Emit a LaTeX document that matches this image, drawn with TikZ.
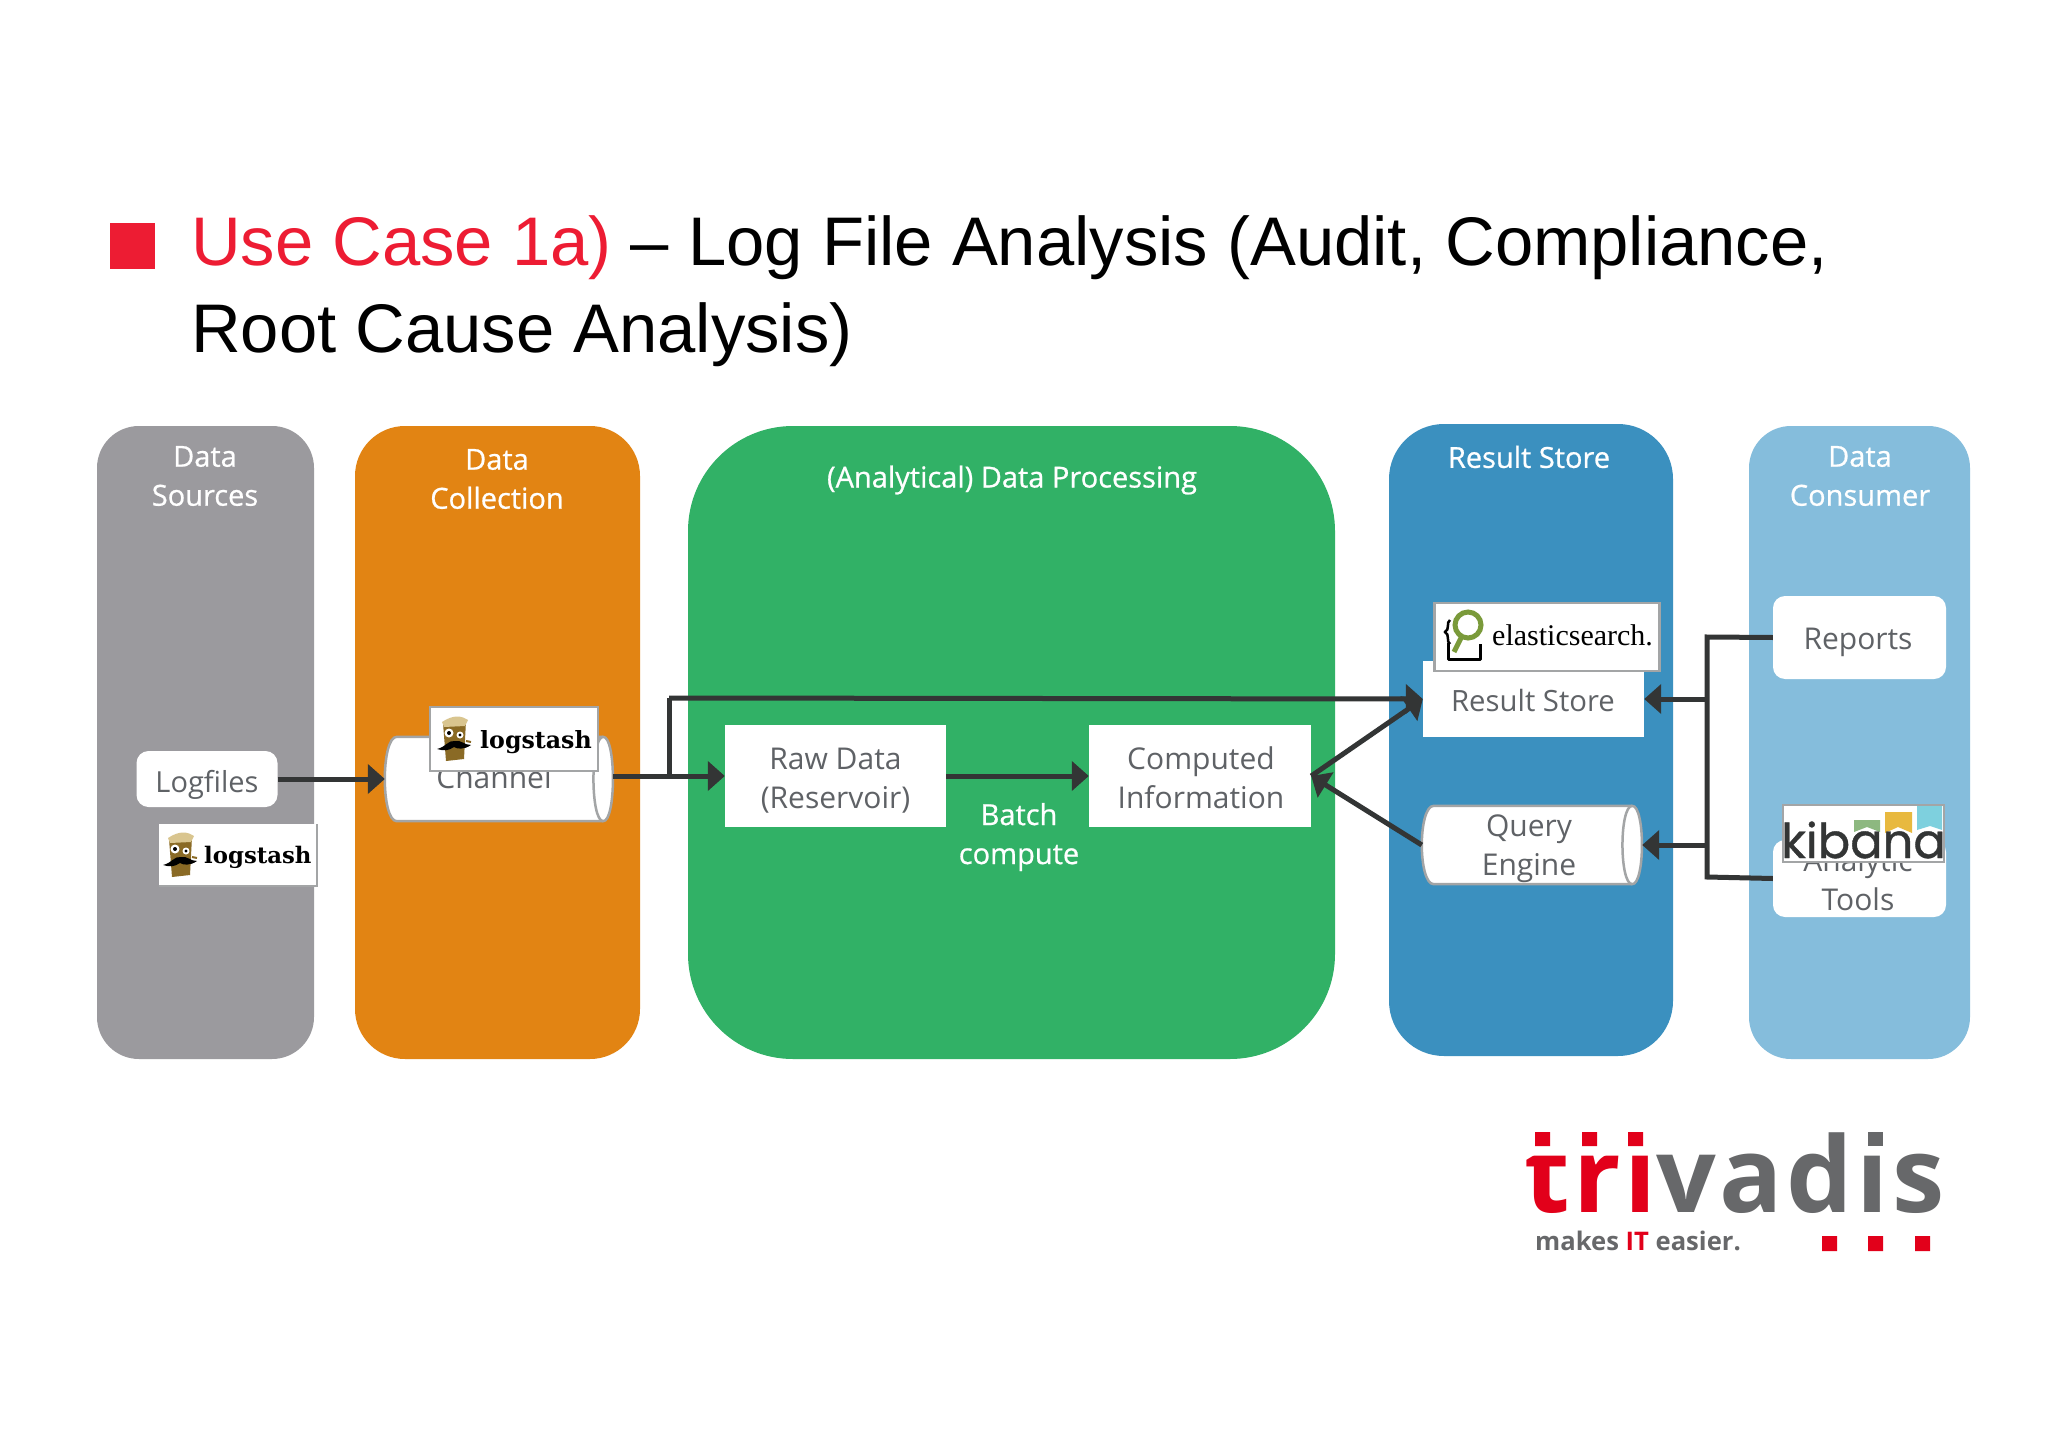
\documentclass[tikz,border=0pt]{standalone}
\usepackage{fontspec}
\usetikzlibrary{shapes.geometric,arrows.meta,calc}
\setmainfont{Open Sans}
\newfontfamily\headfont[FakeBold=0.7]{Open Sans}
\newfontfamily\titlefont{Liberation Sans}
\newfontfamily\logofont[LetterSpace=3.4]{Open Sans}
\newfontfamily\slabfont{DejaVu Serif}
\newfontfamily\elasticfont{Liberation Serif}
\newfontfamily\kibanafont[FakeBold=0.8]{Poppins}
\definecolor{cgray}{HTML}{9B9A9E}
\definecolor{corange}{HTML}{E28413}
\definecolor{cgreen}{HTML}{31B166}
\definecolor{cblue}{HTML}{3B90BF}
\definecolor{clight}{HTML}{85BDDC}
\definecolor{ctext}{HTML}{5F6266}
\definecolor{cline}{HTML}{333535}
\definecolor{credb}{HTML}{ED1C33}
\definecolor{clogo}{HTML}{E2001A}
\definecolor{cgraylogo}{HTML}{67686A}
\definecolor{cedge}{HTML}{A3A5A6}
\definecolor{clog}{HTML}{8A6A25}
\definecolor{clogtop}{HTML}{D9C58F}
\definecolor{cmag}{HTML}{7A9A3A}
\definecolor{kgreen}{HTML}{8DB880}
\definecolor{kyellow}{HTML}{E8B93F}
\definecolor{kcyan}{HTML}{7ED0DE}
\tikzset{
  head/.style={text=white,align=center,font=\headfont\fontsize{29}{39}\selectfont,inner sep=0pt},
  whitebox/.style={fill=white,inner sep=0pt},
  roundbox/.style={whitebox,rounded corners=12pt},
  logobox/.style={fill=white,draw=cedge,line width=2.5pt,inner sep=0pt},
  cylframe/.style={rectangle,inner sep=0pt},
  cylline/.style={fill=white,draw=cedge,line width=2.5pt},
  bodytext/.style={text=ctext,align=center,font=\fontsize{30}{39}\selectfont,inner sep=0pt},
  conn/.style={draw=cline,line width=5pt},
  arr/.style={conn,-{Triangle[length=17pt,width=29pt]}},
  lslabel/.style={anchor=base west,inner sep=0pt,font=\slabfont\bfseries\fontsize{23.7}{26}\selectfont},
}
\newcommand{\mycyl}[1]{%
  \draw[cylline] ($(#1.north west)+(12,0)$) -- ($(#1.north east)+(-10,0)$)
    .. controls ($(#1.north east)+(3,0)$) and ($(#1.south east)+(3,0)$) .. ($(#1.south east)+(-10,0)$)
    -- ($(#1.south west)+(12,0)$)
    .. controls ($(#1.south west)+(-4,0)$) and ($(#1.north west)+(-4,0)$) .. ($(#1.north west)+(12,0)$) -- cycle;
  \draw[cylline,fill=none] ($(#1.north east)+(-10,0)$)
    .. controls ($(#1.north east)+(-23,0)$) and ($(#1.south east)+(-23,0)$) .. ($(#1.south east)+(-10,0)$);}
\newcommand{\logicon}[2]{%
  \begin{scope}[shift={(#1,#2)}]
    \fill[clog] (-11,-16) -- (12,-18) -- (10,20) -- (-8,22) -- cycle;
    \fill[clogtop] (-12,-17) .. controls (0,-25) and (8,-23) .. (14,-19) -- (11,-13) -- (-10,-12) -- cycle;
    \fill[white] (-5,-6) circle (4.5) (6,-4) circle (3.5);
    \fill[black] (-5,-6) circle (2) (6,-4) circle (1.6);
    \fill[black] (-17,10) .. controls (-8,8) and (-6,1) .. (1,2) .. controls (8,1) and (10,6) .. (17,6) .. controls (10,11) and (3,10) .. (0,8) .. controls (-6,12) and (-10,12) .. (-17,10) -- cycle;
    \draw[clog,line width=2pt] (12,2) -- (17,3);
  \end{scope}}
\begin{document}
\begin{tikzpicture}[x=1pt,y=-1pt]
\useasboundingbox (0,0) rectangle (2048,1447);
\fill[white] (0,0) rectangle (2048,1447);
% title
\fill[credb] (110,223) rectangle (155,269);
\node[anchor=base west,inner sep=0pt,font=\titlefont\fontsize{68.8}{80}\selectfont] (t1) at (191,266) {\textcolor{credb}{Use Case 1a)} – Log File Analysis (Audit, Compliance,};
\node[anchor=base west,inner sep=0pt,font=\titlefont\fontsize{68.8}{80}\selectfont] (t2) at (191,352.5) {Root Cause Analysis)};
% panels
\fill[cgray,rounded corners=42pt] (97,426) rectangle (314,1059);
\fill[corange,rounded corners=50pt] (355,426) rectangle (640,1059);
\fill[cgreen,rounded corners=105pt] (688,426) rectangle (1335,1059);
\fill[cblue,rounded corners=55pt] (1389,424) rectangle (1673,1056);
\fill[clight,rounded corners=42pt] (1749,426) rectangle (1970,1059);
% headings
\node[head] (h1) at (205,476) {Data\\Sources};
\node[head] (h2) at (497,479) {Data\\Collection};
\node[head] (h3) at (1012,480) {(Analytical) Data Processing};
\node[head] (h4) at (1529,457) {Result Store};
\node[head] (h5) at (1860,476) {Data\\Consumer};
% boxes
\node[roundbox,minimum width=141pt,minimum height=56pt] (logfiles) at (207,779) {};
\node[bodytext,font=\fontsize{29}{39}\selectfont] (logfilestext) at (207,785) {Logfiles};
\node[cylframe,minimum width=228pt,minimum height=84pt] (chan) at (499,779) {};
\mycyl{chan}
\node[bodytext] (chantext) at (494,777) {Channel};
\node[whitebox,minimum width=221pt,minimum height=102pt] (raw) at (835.5,776) {};
\node[bodytext] (rawtext) at (835.5,781) {Raw Data\\(Reservoir)};
\node[whitebox,minimum width=222pt,minimum height=102pt] (comp) at (1200,776) {};
\node[bodytext] (comptext) at (1201,778) {Computed\\Information};
\node[head] (batch) at (1019,837) {Batch\\compute};
\node[whitebox,minimum width=221pt,minimum height=76pt] (rs) at (1533.5,699) {};
\node[bodytext,font=\fontsize{29.3}{39}\selectfont] (rstext) at (1533,701) {Result Store};
\node[cylframe,minimum width=220pt,minimum height=78pt] (query) at (1532,845) {};
\mycyl{query}
\node[bodytext] (querytext) at (1529,849) {Query\\Engine};
\node[roundbox,minimum width=173pt,minimum height=83pt] (reports) at (1859.5,637.5) {};
\node[bodytext] (reportstext) at (1858,642) {Reports};
\node[roundbox,minimum width=173pt,minimum height=77pt] (tools) at (1859.5,878.5) {};
\node[bodytext] (toolstext) at (1858,880) {Analytic\\Tools};
% logo boxes
\node[fill=white,draw=white,line width=1pt,minimum width=157pt,minimum height=61pt,inner sep=0pt] (ls1) at (238,855) {};
\draw[cedge,line width=2pt] (ls1.north east) -- (ls1.south east) -- (ls1.south west);
\logicon{180}{855}
\node[lslabel,font=\slabfont\bfseries\fontsize{22.8}{26}\selectfont] (ls1t) at (204,863) {logstash};
\node[logobox,minimum width=168pt,minimum height=64pt] (ls2) at (514,739) {};
\logicon{454}{739}
\node[lslabel] (ls2t) at (480,748) {logstash};
\node[logobox,minimum width=225pt,minimum height=68pt] (es) at (1547,637) {};
\node[anchor=base west,inner sep=0pt,font=\elasticfont\fontsize{30}{32}\selectfont] (est) at (1492,645) {elasticsearch.};
\draw[black,line width=2.5pt] (1450,620) .. controls (1446,622) and (1450,630) .. (1445,632) .. controls (1450,634) and (1446,642) .. (1450,644);
\draw[black,line width=3pt,line join=round] (1448,643) -- (1448,659) -- (1480,659) -- (1480,644);
\draw[line width=5pt,color=cmag] (1462,636) -- (1454,652);
\draw[line width=5pt,color=cmag,fill=white] (1468,625) circle (13);
\node[logobox,minimum width=161pt,minimum height=57pt] (kb) at (1863.5,833.5) {};
\fill[kgreen] (1854,820) -- (1880,820) -- (1880,832) -- (1867,827) -- (1854,832) -- cycle;
\fill[kyellow] (1885,812) -- (1912,812) -- (1912,833) -- (1898,827) -- (1885,833) -- cycle;
\fill[kcyan] (1917,806) -- (1942,806) -- (1942,830) -- (1930,826) -- (1917,830) -- cycle;
\node[anchor=base west,inner sep=0pt,text=cline,font=\kibanafont\fontsize{48}{56}\selectfont] (kbt) at (1781,858) {kibana};
% connectors
\draw[arr] (logfiles.east) -- (chan.west);
\coordinate (j1) at (669,776);
\coordinate (j2) at (669,698);
\draw[arr] (chan.east |- raw.west) -- (raw.west);
\draw[conn] (j1) -- (j2);
\draw[arr] (j2) -- (rs.west);
\draw[arr] (raw.east) -- (comp.west);
\draw[arr] (comp.east) -- (rs.west);
\draw[arr] (query.west) -- (comp.east);
\coordinate (bus1) at (1707,637);
\coordinate (bus2) at (1707,877);
\draw[conn] (reports.west) -- (bus1) -- (bus2) -- (tools.west);
\draw[arr] (bus1 |- rs.east) -- (rs.east);
\draw[arr] (bus1 |- query.east) -- (query.east);
% trivadis
\node[anchor=base west,inner sep=0pt,font=\logofont\bfseries\fontsize{105}{110}\selectfont] (tv) at (1524,1212) {\textcolor{clogo}{tri}\textcolor{cgraylogo}{vadis}};
\fill[white] (1528,1116) rectangle (1650,1155.5) (1862,1116) rectangle (1890,1155.5);
\fill[clogo] (1535,1132) rectangle (1550,1146) (1582,1132) rectangle (1597,1146) (1628,1132) rectangle (1643,1146);
\fill[cgraylogo] (1868,1132) rectangle (1883,1146);
\node[anchor=base west,inner sep=0pt,text=cgraylogo,font=\bfseries\fontsize{25.6}{30}\selectfont] (tag) at (1535,1250) {makes \textcolor{clogo}{IT} easier.};
\fill[clogo] (1822,1236) rectangle (1837,1251) (1868,1236) rectangle (1883,1251) (1915,1236) rectangle (1930,1251);
\end{tikzpicture}
\end{document}
